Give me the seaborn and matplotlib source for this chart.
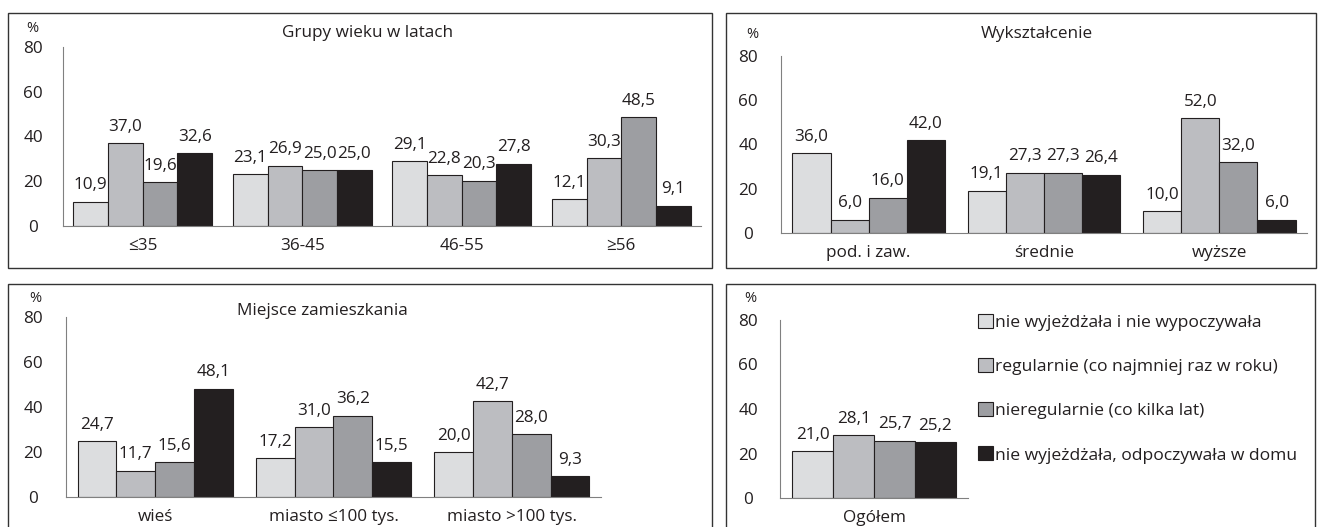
import matplotlib
matplotlib.use('Agg')
import matplotlib.pyplot as plt
import seaborn as sns
import pandas as pd
import numpy as np
from matplotlib.patches import Rectangle, Patch

# ---------------- data ----------------
series = ['nie wyjeżdżała i nie wypoczywała',
          'regularnie (co najmniej raz w roku)',
          'nieregularnie (co kilka lat)',
          'nie wyjeżdżała, odpoczywała w domu']

age_groups = ['≤35', '36-45', '46-55', '≥56']
age_none = [10.9, 23.1, 29.1, 12.1]
age_regular = [37.0, 26.9, 22.8, 30.3]
age_irregular = [19.6, 25.0, 20.3, 48.5]
age_home = [32.6, 25.0, 27.8, 9.1]

edu_groups = ['pod. i zaw.', 'średnie', 'wyższe']
edu_none = [36.0, 19.1, 10.0]
edu_regular = [6.0, 27.3, 52.0]
edu_irregular = [16.0, 27.3, 32.0]
edu_home = [42.0, 26.4, 6.0]

place_groups = ['wieś', 'miasto ≤100 tys.', 'miasto >100 tys.']
place_none = [24.7, 17.2, 20.0]
place_regular = [11.7, 31.0, 42.7]
place_irregular = [15.6, 36.2, 28.0]
place_home = [48.1, 15.5, 9.3]

total_groups = ['Ogółem']
total_none = [21.0]
total_regular = [28.1]
total_irregular = [25.7]
total_home = [25.2]

y_ticks = [0, 20, 40, 60, 80]
titles = ['Grupy wieku w latach', 'Wykształcenie', 'Miejsce zamieszkania']

colors = ['#dcdddf', '#bcbdc1', '#9d9ea2', '#231f20']

# ---------------- style ----------------
sns.set_theme(style='white')
plt.rcParams['font.family'] = ['Open Sans', 'DejaVu Sans']
TXT = '#231f20'
AX_C = '#808080'
FS = 12.3

W, H = 1319, 527
fig = plt.figure(figsize=(W / 100, H / 100), dpi=100)
PT = 0.72  # points per pixel at dpi 100


def px_axes(x0, y0, x1, y1):
    return fig.add_axes([x0 / W, 1 - y1 / H, (x1 - x0) / W, (y1 - y0) / H])


def fmt(v):
    return f'{v:.1f}'.replace('.', ',')


def panel(ax, cats, vals, ypad_px):
    df = pd.DataFrame({
        'cat': [c for _ in series for c in cats],
        'series': [s for s in series for _ in cats],
        'val': [v for vs in vals for v in vs],
    })
    sns.barplot(data=df, x='cat', y='val', hue='series', order=cats,
                hue_order=series, palette=colors, width=0.87,
                edgecolor=TXT, linewidth=0.8, saturation=1,
                errorbar=None, legend=False, ax=ax)
    for cont in ax.containers:
        ax.bar_label(cont, labels=[fmt(v) for v in cont.datavalues],
                     padding=6, fontsize=FS, color=TXT)
    n = len(cats)
    ax.set_ylim(0, 80)
    ax.set_xlim(-0.5, n - 0.5)
    ax.set_yticks(y_ticks)
    ax.set_yticklabels([str(t) for t in y_ticks])
    ax.set_xticks(np.arange(n + 1) - 0.5)
    ax.set_xticklabels([''] * (n + 1))
    ax.set_xticks(np.arange(n), minor=True)
    ax.set_xticklabels(cats, minor=True)
    ax.set_xlabel('')
    ax.set_ylabel('')
    ax.tick_params(axis='x', which='major', direction='out', length=5 * PT,
                   width=0.8, color=AX_C)
    ax.tick_params(axis='x', which='minor', length=0, pad=8.5, labelsize=FS,
                   labelcolor=TXT)
    ax.tick_params(axis='y', direction='out', length=5 * PT, width=0.8,
                   color=AX_C, pad=ypad_px * PT, labelsize=FS, labelcolor=TXT)
    for lbl in ax.get_yticklabels():
        lbl.set_horizontalalignment('center')
    for s in ['top', 'right']:
        ax.spines[s].set_visible(False)
    for s in ['left', 'bottom']:
        ax.spines[s].set_color(AX_C)
        ax.spines[s].set_linewidth(0.8)
    ax.set_facecolor('none')


# ---------------- panels ----------------
ax1 = px_axes(63, 47, 701, 226)
panel(ax1, age_groups, [age_none, age_regular, age_irregular, age_home], 25)

ax2 = px_axes(781, 56, 1307, 233)
panel(ax2, edu_groups, [edu_none, edu_regular, edu_irregular, edu_home], 28)

ax3 = px_axes(66, 317, 601, 497)
panel(ax3, place_groups, [place_none, place_regular, place_irregular, place_home], 28)

ax4 = px_axes(780, 320, 968, 498)
panel(ax4, total_groups, [total_none, total_regular, total_irregular, total_home], 27)


def ftext(x, y, s, **kw):
    fig.text(x / W, 1 - y / H, s, ha='center', va='center', color=TXT, **kw)


# titles
ftext(368, 33, titles[0], fontsize=12.3)
ftext(1037, 34, titles[1], fontsize=12.3)
ftext(322, 311, titles[2], fontsize=12.3)
# "%" units
ftext(32, 29, '%', fontsize=10.5)
ftext(752, 35, '%', fontsize=10.5)
ftext(35, 299, '%', fontsize=10.5)
ftext(750, 299, '%', fontsize=10.5)

# panel frames
for (x0, y0, x1, y1) in [(8, 13, 712, 268), (726, 13, 1316, 268),
                         (8, 284, 712, 540), (726, 284, 1315, 540)]:
    fig.add_artist(Rectangle((x0 / W, 1 - y1 / H), (x1 - x0) / W, (y1 - y0) / H,
                             transform=fig.transFigure, fill=False,
                             edgecolor='#333333', linewidth=1.0))

# legend
handles = [Patch(facecolor=c, edgecolor=TXT, linewidth=0.8) for c in colors]
fig.legend(handles, series, loc='upper left',
           bbox_to_anchor=(978 / W, 1 - 314 / H), frameon=False, fontsize=12.6,
           handlelength=0.85, handleheight=0.85, handletextpad=0.15,
           labelspacing=1.55, borderpad=0, borderaxespad=0, labelcolor=TXT)

fig.savefig('out.png', dpi=100)
